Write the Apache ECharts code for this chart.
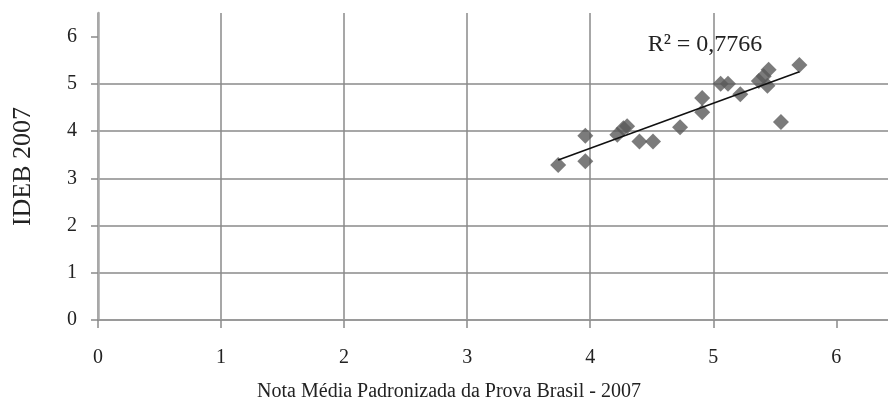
<!DOCTYPE html>
<html>
<head>
<meta charset="utf-8">
<script src="https://cdn.jsdelivr.net/npm/echarts@6/dist/echarts.min.js"></script>
<style>
  html, body { margin: 0; padding: 0; background: #ffffff; }
  #chart { width: 888px; height: 402px; }
</style>
</head>
<body>
<div id="chart"></div>
<script>
// Nota média padronizada da Prova Brasil (2007) vs IDEB 2007
const notaProvaBrasil = [3.74, 3.96, 3.96, 4.22, 4.27, 4.30, 4.40, 4.51, 4.73, 4.91, 4.91, 5.06, 5.12, 5.22, 5.37, 5.41, 5.45, 5.44, 5.55, 5.70];
const ideb2007        = [3.28, 3.36, 3.90, 3.92, 4.06, 4.10, 3.78, 3.78, 4.08, 4.40, 4.70, 5.00, 5.00, 4.78, 5.06, 5.16, 5.30, 4.96, 4.19, 5.40];
const xTicks = [0, 1, 2, 3, 4, 5, 6];
const yTicks = [0, 1, 2, 3, 4, 5, 6];
const r2Text = 'R² = 0,7766';

// least-squares trend line
const n = notaProvaBrasil.length;
const mx = notaProvaBrasil.reduce((a, b) => a + b, 0) / n;
const my = ideb2007.reduce((a, b) => a + b, 0) / n;
let sxy = 0, sxx = 0;
for (let i = 0; i < n; i++) {
  sxy += (notaProvaBrasil[i] - mx) * (ideb2007[i] - my);
  sxx += (notaProvaBrasil[i] - mx) ** 2;
}
const slope = sxy / sxx;
const intercept = my - slope * mx;
const xMin = Math.min(...notaProvaBrasil);
const xMax = Math.max(...notaProvaBrasil);
const trend = [[xMin, intercept + slope * xMin], [xMax, intercept + slope * xMax]];

const points = notaProvaBrasil.map((v, i) => [v, ideb2007[i]]);

const serif = '"Liberation Serif", "Times New Roman", serif';
const gridColor = '#8a8a8a';

const chart = echarts.init(document.getElementById('chart'), null, { renderer: 'canvas' });
chart.setOption({
  animation: false,
  backgroundColor: '#ffffff',
  grid: { left: 98, right: 0, top: 13, bottom: 82, containLabel: false, outerBoundsMode: 'none' },
  xAxis: {
    type: 'value',
    // the plot runs on past 6 up to the right edge of the frame
    min: 0, max: 6.42, interval: 1,
    name: 'Nota Média Padronizada da Prova Brasil - 2007',
    nameLocation: 'middle',
    nameGap: 62,
    nameTextStyle: { fontFamily: serif, fontSize: 20, color: '#222', padding: [0, 88, 0, 0] },
    axisLine: { show: true, lineStyle: { color: '#9a9a9a', width: 2 } },
    axisTick: { show: true, length: 8, customValues: xTicks, lineStyle: { color: '#8a8a8a', width: 1.5 } },
    axisLabel: { fontFamily: serif, fontSize: 20, color: '#222', margin: 28, customValues: xTicks },
    splitLine: { show: true, showMaxLine: false, lineStyle: { color: gridColor, width: 1.5 } }
  },
  yAxis: {
    type: 'value',
    min: 0, max: 6.5, interval: 1,
    name: 'IDEB 2007',
    nameLocation: 'middle',
    nameGap: 62,
    nameTextStyle: { fontFamily: serif, fontSize: 26, color: '#222' },
    axisLine: { show: true, lineStyle: { color: '#a8a8a8', width: 2.5 } },
    axisTick: { show: true, length: 7, customValues: yTicks, lineStyle: { color: '#8a8a8a', width: 1.5 } },
    axisLabel: { fontFamily: serif, fontSize: 20, color: '#222', margin: 21, customValues: yTicks },
    splitLine: { show: true, showMaxLine: false, lineStyle: { color: gridColor, width: 1.5 } }
  },
  series: [
    {
      type: 'scatter',
      data: points,
      symbol: 'diamond',
      symbolSize: [16, 16],
      itemStyle: { color: '#5a5a5a' },
      z: 3
    },
    {
      type: 'line',
      data: trend,
      symbol: 'none',
      lineStyle: { color: '#111', width: 1.6 },
      z: 4
    }
  ],
  graphic: [
    {
      type: 'text',
      x: 705,
      y: 45,
      style: { text: r2Text, font: '24px ' + serif, fill: '#222', align: 'center', verticalAlign: 'middle' },
      z: 10
    }
  ]
});
</script>
</body>
</html>
